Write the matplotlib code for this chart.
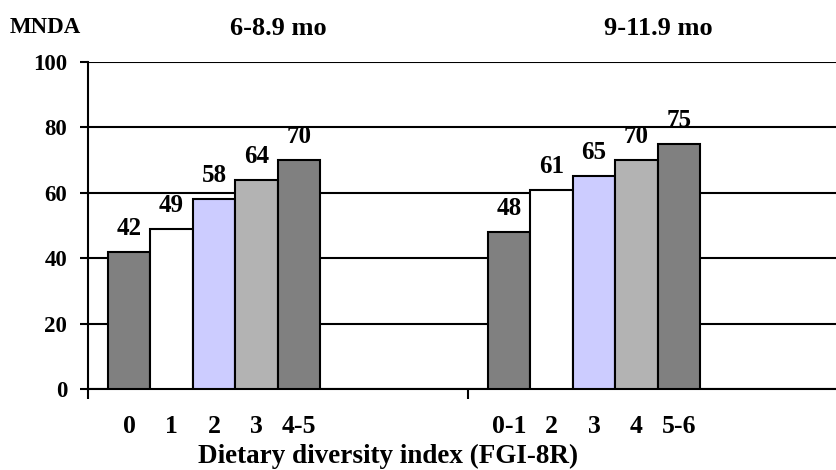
import numpy as np
import matplotlib.pyplot as plt
from matplotlib.transforms import blended_transform_factory

plt.rcParams['font.family'] = ['Liberation Serif', 'DejaVu Serif']
plt.rcParams['font.weight'] = 'bold'

# MNDA by dietary diversity score, two age groups
groups = ['6-8.9 mo', '9-11.9 mo']
labels_young = ['0', '1', '2', '3', '4-5']
labels_old = ['0-1', '2', '3', '4', '5-6']
mnda_young = [42, 49, 58, 64, 70]
mnda_old = [48, 61, 65, 70, 75]
bar_colors = ['#808080', '#ffffff', '#ccccff', '#b3b3b3', '#808080']

W, H = 837, 470
fig = plt.figure(figsize=(W / 100, H / 100), dpi=100)
ax = fig.add_axes([88 / W, 81 / H, 760 / W, 327 / H])
top_trans = blended_transform_factory(ax.transData, fig.transFigure)

width = 0.1116
start = 0.0526
for g, (vals, labs) in enumerate([(mnda_young, labels_young), (mnda_old, labels_old)]):
    xs = g + start + width * (np.arange(len(vals)) + 0.5)
    ax.bar(xs, vals, width=width, color=bar_colors, edgecolor='black',
           linewidth=1.5, zorder=3)
    for x, v in zip(xs, vals):
        ax.text(x, v + 5.2, str(v), ha='center', va='baseline',
                fontsize=18, fontweight='bold')
    for x, lab in zip(xs, labs):
        ax.text(x, -13.5, lab, ha='center', va='baseline', fontsize=18.5,
                fontweight='bold', clip_on=False)
    ax.text(g + 0.5, 1 - 35 / H, groups[g], transform=top_trans,
            ha='center', va='baseline', fontsize=19, fontweight='bold')

ax.set_xlim(0, 2)
ax.set_ylim(0, 100)
ax.set_yticks(range(0, 101, 20))
ax.set_xticks([0, 1, 2])
ax.set_xticklabels([])
ax.tick_params(axis='y', direction='out', length=6, width=1.5, labelsize=16.5, pad=9)
ax.tick_params(axis='x', direction='out', length=7, width=1.5)
for lab in ax.get_yticklabels():
    lab.set_fontweight('bold')

ax.yaxis.grid(True, color='black', linewidth=1.5, zorder=0)
ax.set_axisbelow(True)
for side in ['top', 'right']:
    ax.spines[side].set_visible(False)
ax.spines['left'].set_linewidth(1.5)
ax.spines['bottom'].set_linewidth(1.5)

fig.text(10 / W, 1 - 33 / H, 'MNDA', ha='left', va='baseline',
         fontsize=16.5, fontweight='bold')
fig.text(388 / W, 1 - 463 / H, 'Dietary diversity index (FGI-8R)',
         ha='center', va='baseline', fontsize=19.5, fontweight='bold')

fig.savefig('out.png', dpi=100)
